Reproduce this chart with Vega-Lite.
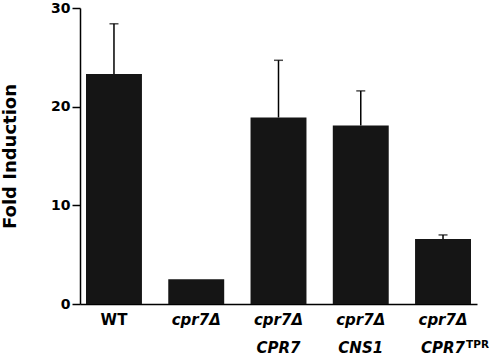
{
  "$schema": "https://vega.github.io/schema/vega-lite/v6.json",
  "width": 397,
  "height": 296,
  "autosize": {"type": "none"},
  "padding": {"left": 80, "top": 8, "right": 23, "bottom": 59},
  "background": "white",
  "config": {
    "view": {"stroke": null},
    "font": "DejaVu Sans"
  },
  "data": {
    "values": [
      {"strain": "WT", "value": 23.3, "upper": 28.4, "sup": ""},
      {"strain": "cpr7Δ", "value": 2.5, "upper": null, "sup": ""},
      {"strain": "cpr7Δ|CPR7", "value": 18.9, "upper": 24.7, "sup": ""},
      {"strain": "cpr7Δ|CNS1", "value": 18.1, "upper": 21.6, "sup": ""},
      {"strain": "cpr7Δ|CPR7 ", "value": 6.6, "upper": 7.0, "sup": "TPR"}
    ]
  },
  "encoding": {
    "x": {
      "field": "strain",
      "type": "nominal",
      "sort": null,
      "scale": {"paddingInner": 0.32, "paddingOuter": 0.073},
      "axis": {
        "title": null,
        "labelAngle": 0,
        "ticks": false,
        "domainColor": "#000000",
        "domainWidth": 1.5,
        "labelFont": "DejaVu Sans",
        "labelFontSize": 15,
        "labelFontWeight": "bold",
        "labelFontStyle": {"expr": "datum.value == 'WT' ? 'normal' : 'italic'"},
        "labelColor": "#000000",
        "labelPadding": 8,
        "labelLineHeight": 28,
        "labelExpr": "split(trim(datum.label), '|')"
      }
    }
  },
  "layer": [
    {
      "mark": {"type": "rule", "color": "#000000", "strokeWidth": 1.5},
      "encoding": {
        "y": {"field": "value", "type": "quantitative"},
        "y2": {"field": "upper"}
      }
    },
    {
      "mark": {"type": "tick", "color": "#000000", "size": 9, "thickness": 1.5, "orient": "horizontal"},
      "encoding": {
        "y": {"field": "upper", "type": "quantitative"}
      }
    },
    {
      "mark": {"type": "bar", "color": "#151515"},
      "encoding": {
        "y": {
          "field": "value",
          "type": "quantitative",
          "scale": {"domain": [0, 30], "nice": false},
          "axis": {
            "title": "Fold Induction",
            "titleFont": "DejaVu Sans",
            "titleFontSize": 18,
            "titleFontWeight": "bold",
            "titleColor": "#000000",
            "titlePadding": 31,
            "values": [0, 10, 20, 30],
            "grid": false,
            "tickSize": 8,
            "tickWidth": 1.5,
            "tickColor": "#000000",
            "domainColor": "#000000",
            "domainWidth": 1.5,
            "labelFont": "DejaVu Sans",
            "labelFontSize": 14,
            "labelFontWeight": "bold",
            "labelColor": "#000000",
            "labelPadding": 2
          }
        }
      }
    },
    {
      "mark": {"type": "text", "align": "left", "baseline": "alphabetic", "dx": 23, "dy": 44, "fontSize": 10.5, "fontWeight": "bold", "font": "DejaVu Sans", "color": "#000000"},
      "encoding": {
        "y": {"datum": 0},
        "text": {"field": "sup"}
      }
    }
  ]
}
